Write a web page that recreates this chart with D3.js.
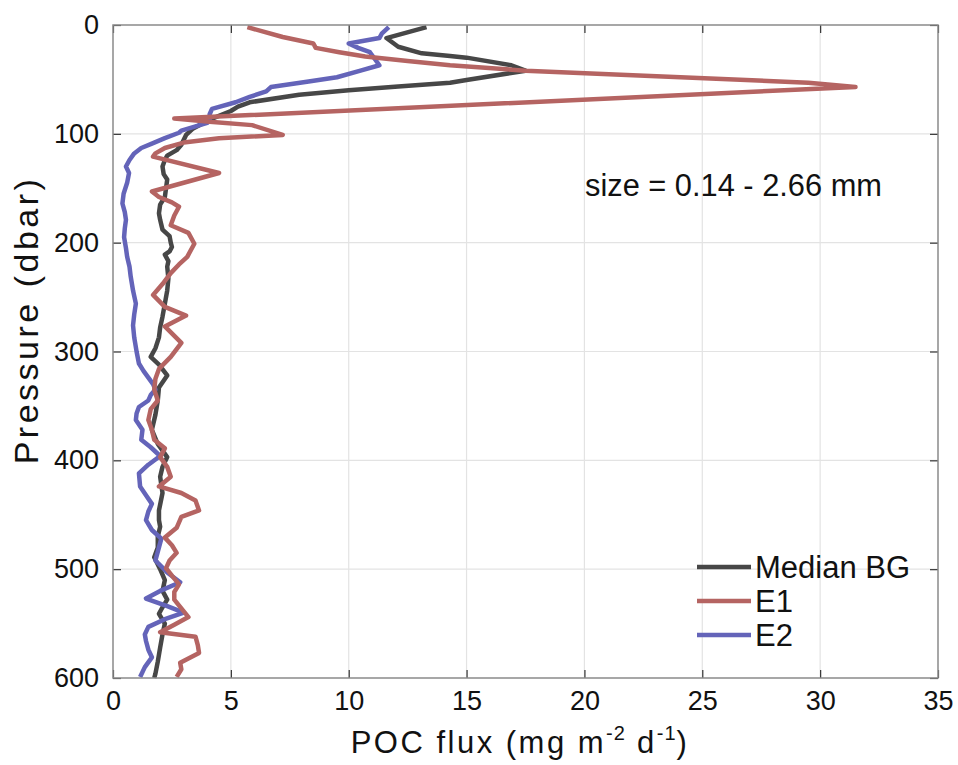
<!DOCTYPE html>
<html>
<head>
<meta charset="utf-8">
<script src="https://cdn.jsdelivr.net/npm/d3@7"></script>
<style>
  body { margin: 0; background: #fff; }
  svg { font-family: "Liberation Sans", Arial, sans-serif; }
</style>
</head>
<body>
<svg id="chart" width="958" height="765"></svg>
<script>
// pressure (dbar) / POC flux pairs
const bgPressure = [2,12,20,26,28.5,30,37,42,50.5,53,56.5,60,64,71,75,79,87,95,101,110,115,120,124,130,137,142,150,158,165,173,179,188,194,200,204,208,211,217,222,233,244,256,268,278,287,297,305,312,322,333,345,358,372,385,397,406,415,430,446,455,461,470,480,489,500,510,520,528,535,541,550,560,572,585,596,600];
const bgFlux     = [13.3,11.6,12.1,13.1,14.3,15,16.9,17.5,15.0,14.3,12.1,10.0,7.9,5.8,5.3,5.0,4.1,3.4,3.1,2.9,2.7,2.3,2.2,2.1,2.15,2.3,2.25,2.2,2.0,1.95,2.0,2.1,2.4,2.45,2.5,2.4,2.2,2.35,2.3,2.35,2.3,2.2,2.1,2.0,1.95,1.8,1.6,1.95,2.3,1.95,1.9,1.8,1.65,1.9,2.3,2.1,2.0,2.1,1.95,1.95,2.0,1.9,1.9,1.75,2.0,2.2,2.1,2.3,2.1,1.95,2.2,2.1,2.0,1.9,1.8,1.75];

const e1Pressure = [2,11,17,21,25,29,33,37,42,53,57,86,89,92,101,104,108,113,118,121,136,153,158,163,167,175,184,191,201,213,220,228,238,248,259,267,277,292,305,316,325,335,345,353,363,372,381,389,397,406,415,424,430,437,446,452,462,471,478,485,492,499,506,514,521,528,536,544,551,558,562,570,577,586,592,599];
const e1Flux     = [5.7,7.2,8.5,8.6,9.6,10.7,12.5,14.3,17.5,29.5,31.5,2.6,4.1,5.9,7.2,4.5,3.0,2.2,1.8,1.7,4.5,1.65,1.95,2.5,2.8,2.6,2.45,3.2,3.45,3.15,2.8,2.45,2.1,1.7,2.2,3.1,2.2,2.9,2.45,1.95,1.8,1.75,1.9,1.6,1.5,1.65,1.75,2.2,2.0,2.3,2.45,1.95,2.9,3.5,3.65,2.9,2.7,2.2,2.5,2.7,2.4,2.25,2.5,2.8,2.6,2.6,2.9,3.2,2.6,2.0,3.5,3.6,3.65,2.85,2.9,2.7];

const e2Pressure = [2,8,12,17,21,25,31,37,42,48,52,57,61,66,71,77,82,87,90,97,99,104,109,113,118,124,130,136,145,155,164,172,179,187,195,205,213,222,231,244,256,266,276,287,300,311,318,324,330,335,340,345,351,357,363,372,381,388,396,404,412,424,432,440,447,455,464,472,480,492,503,512,520,527,534,540,546,553,560,566,574,581,590,599];
const e2Flux     = [11.7,11.4,11.3,10.0,10.4,10.9,11.1,11.3,10.5,9.5,8.3,6.7,6.5,5.8,5.2,4.2,4.1,4.1,4.0,2.9,2.8,2.2,1.65,1.2,0.9,0.7,0.55,0.68,0.6,0.45,0.4,0.5,0.55,0.5,0.47,0.55,0.6,0.7,0.75,0.85,0.97,0.9,0.85,0.9,1.0,1.1,1.3,1.5,1.7,1.8,1.6,1.5,1.1,1.0,0.97,1.25,1.2,1.6,2.0,1.5,1.1,1.15,1.4,1.65,1.5,1.4,1.65,2.05,1.95,1.8,2.3,2.85,2.0,1.4,2.3,3.0,2.2,1.5,1.35,1.4,1.5,1.65,1.35,1.15];

const seriesNames  = ['Median BG', 'E1', 'E2'];
const seriesColors = ['#474747', '#b56462', '#6464b9'];
const xTicks = [0, 5, 10, 15, 20, 25, 30, 35];
const yTicks = [0, 100, 200, 300, 400, 500, 600];
const annotation = 'size = 0.14 - 2.66 mm';

const margin = {t:25, r:20, b:87, l:113};
const svg = d3.select('#chart');
const width = +svg.attr('width');
const height = +svg.attr('height');
const w = width - margin.l - margin.r;
const h = height - margin.t - margin.b;

const scaleX = d3.scaleLinear().domain([0, 35]).range([0, w]);
const scaleY = d3.scaleLinear().domain([0, 600]).range([0, h]);

const plot = svg.append('g')
    .attr('transform', `translate(${margin.l},${margin.t})`);

// grid
plot.append('g').selectAll('line.gx')
    .data(xTicks.slice(1, -1))
    .join('line')
    .attr('x1', d => scaleX(d)).attr('x2', d => scaleX(d))
    .attr('y1', 0).attr('y2', h)
    .style('stroke', '#e3e3e3').style('stroke-width', 1.2);
plot.append('g').selectAll('line.gy')
    .data(yTicks.slice(1, -1))
    .join('line')
    .attr('x1', 0).attr('x2', w)
    .attr('y1', d => scaleY(d)).attr('y2', d => scaleY(d))
    .style('stroke', '#e3e3e3').style('stroke-width', 1.2);

// lines
const series = [
    bgPressure.map((p, i) => ({p, v: bgFlux[i]})),
    e1Pressure.map((p, i) => ({p, v: e1Flux[i]})),
    e2Pressure.map((p, i) => ({p, v: e2Flux[i]}))
];
const line = d3.line()
    .x(d => scaleX(d.v))
    .y(d => scaleY(d.p));

// drawing order: median, E2, then E1 on top
const order = [0, 2, 1];
plot.append('g').selectAll('path.series')
    .data(order)
    .join('path')
    .attr('d', i => line(series[i]))
    .style('fill', 'none')
    .style('stroke', i => seriesColors[i])
    .style('stroke-width', 4.5)
    .style('stroke-linejoin', 'round');

// axes
const tickStyle = g => {
    g.select('.domain').remove();
    g.selectAll('.tick line').style('stroke', '#333').style('stroke-width', 1.2);
    g.selectAll('.tick text').style('font-size', '27px').style('fill', '#111')
        .style('font-family', '"Liberation Sans", Arial, sans-serif');
};
plot.append('g')
    .attr('transform', `translate(0,${h})`)
    .call(d3.axisBottom(scaleX).tickValues(xTicks).tickSize(-8).tickPadding(13))
    .call(tickStyle);
plot.append('g')
    .call(d3.axisTop(scaleX).tickValues(xTicks).tickSize(-8).tickFormat(''))
    .call(tickStyle);
plot.append('g')
    .call(d3.axisLeft(scaleY).tickValues(yTicks).tickSize(-8).tickPadding(14))
    .call(tickStyle);
plot.append('g')
    .attr('transform', `translate(${w},0)`)
    .call(d3.axisRight(scaleY).tickValues(yTicks).tickSize(-8).tickFormat(''))
    .call(tickStyle);

plot.append('rect')
    .attr('width', w).attr('height', h)
    .style('fill', 'none').style('stroke', '#8a8a8a').style('stroke-width', 1.5);

// axis labels
const xl = svg.append('text')
    .attr('x', 520).attr('y', 753)
    .attr('text-anchor', 'middle')
    .style('font-size', '31px').style('letter-spacing', '2.5px').style('fill', '#111');
xl.append('tspan').text('POC flux (mg m');
xl.append('tspan').attr('dy', -13).style('font-size', '20px').style('letter-spacing', '1px').text('-2');
xl.append('tspan').attr('dy', 13).text(' d');
xl.append('tspan').attr('dy', -13).style('font-size', '20px').style('letter-spacing', '1px').text('-1');
xl.append('tspan').attr('dy', 13).text(')');

svg.append('text')
    .attr('transform', 'translate(38,320) rotate(-90)')
    .attr('text-anchor', 'middle')
    .style('font-size', '34px').style('letter-spacing', '3.5px').style('fill', '#111')
    .text('Pressure (dbar)');

svg.append('text')
    .attr('x', 585).attr('y', 196)
    .style('font-size', '30.8px').style('fill', '#111')
    .text(annotation);

// legend
const legend = svg.append('g')
    .attr('transform', 'translate(697,567)');
const item = legend.selectAll('g')
    .data(seriesNames)
    .join('g')
    .attr('transform', (d, i) => `translate(0,${i * 34})`);
item.append('line')
    .attr('x1', 0).attr('x2', 54)
    .style('stroke', (d, i) => seriesColors[i])
    .style('stroke-width', 4.5);
item.append('text')
    .attr('x', 58).attr('y', 11)
    .style('font-size', '31px').style('fill', '#111')
    .text(d => d);
</script>
</body>
</html>
